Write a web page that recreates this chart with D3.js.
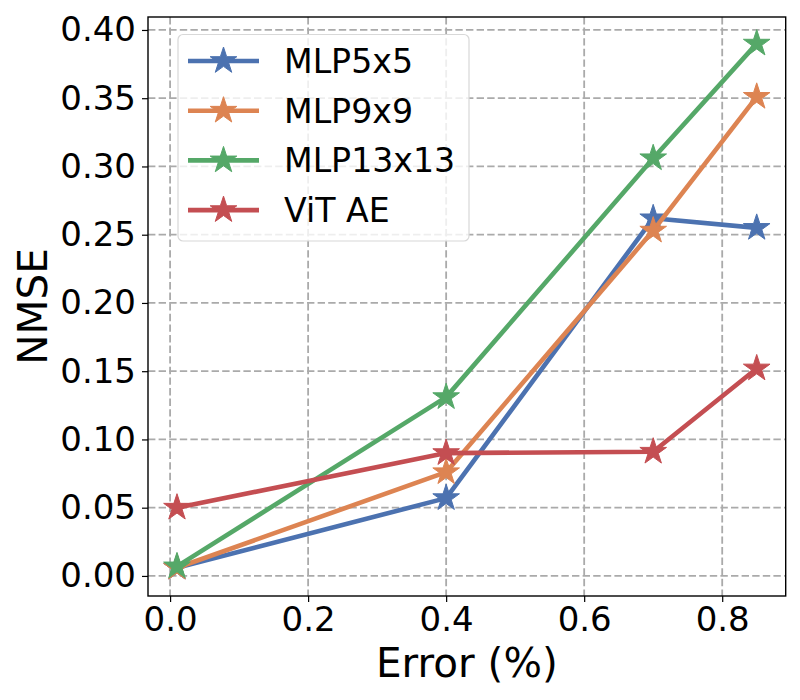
<!DOCTYPE html>
<html>
<head>
<meta charset="utf-8">
<script src="https://cdn.jsdelivr.net/npm/d3@7"></script>
<style>
  body { margin: 0; background: #fff; }
  svg { font-family: "DejaVu Sans", sans-serif; }
</style>
</head>
<body>
<script>
const width = 800;
const height = 700;

// data
var errors = [0.01, 0.4, 0.7, 0.85];
var seriesNames = ["MLP5x5", "MLP9x9", "MLP13x13", "ViT AE"];
var mlp5 = [0.006, 0.057, 0.262, 0.255];
var mlp9 = [0.006, 0.076, 0.253, 0.351];
var mlp13 = [0.007, 0.131, 0.306, 0.390];
var vitAE = [0.050, 0.090, 0.091, 0.152];
var xTicks = [0.0, 0.2, 0.4, 0.6, 0.8];
var yTicks = [0.00, 0.05, 0.10, 0.15, 0.20, 0.25, 0.30, 0.35, 0.40];

var colors = ["#4C72B0", "#DD8452", "#55A868", "#C44E52"];
var allSeries = [mlp5, mlp9, mlp13, vitAE];

const m_left = 148, m_right = 785.7, m_top = 17, m_bottom = 596;

var svg = d3.select("body")
    .append("svg")
    .attr("width", width)
    .attr("height", height);

var xScale = d3.scaleLinear().domain([-0.032, 0.892]).range([m_left, m_right]);
var yScale = d3.scaleLinear().domain([-0.0147, 0.4095]).range([m_bottom, m_top]);

// grid
var grid = svg.append("g").attr("class", "grid");
grid.selectAll("line.gx")
  .data(xTicks).enter()
  .append("line")
    .attr("x1", d => xScale(d)).attr("x2", d => xScale(d))
    .attr("y1", m_top).attr("y2", m_bottom)
    .attr("stroke", "#aaaaaa").attr("stroke-width", 1.8)
    .attr("stroke-dasharray", "7.4,3.2");
grid.selectAll("line.gy")
  .data(yTicks).enter()
  .append("line")
    .attr("y1", d => yScale(d)).attr("y2", d => yScale(d))
    .attr("x1", m_left).attr("x2", m_right)
    .attr("stroke", "#aaaaaa").attr("stroke-width", 1.8)
    .attr("stroke-dasharray", "7.4,3.2");

// axes
var xAxis = svg.append("g")
    .attr("transform", "translate(0," + m_bottom + ")")
    .call(d3.axisBottom(xScale).tickValues(xTicks).tickFormat(d3.format(".1f")).tickSize(6).tickSizeOuter(0).tickPadding(5));
var yAxis = svg.append("g")
    .attr("transform", "translate(" + m_left + ",0)")
    .call(d3.axisLeft(yScale).tickValues(yTicks).tickFormat(d3.format(".2f")).tickSize(6).tickSizeOuter(0).tickPadding(6));
[xAxis, yAxis].forEach(function(a){
  a.select(".domain").remove();
  a.selectAll("text").attr("font-size", 34).attr("fill", "#000").attr("font-family", "DejaVu Sans");
  a.selectAll("line").attr("stroke", "#000").attr("stroke-width", 1.2);
});

svg.append("rect")
  .attr("x", m_left).attr("y", m_top)
  .attr("width", m_right - m_left).attr("height", m_bottom - m_top)
  .attr("fill", "none").attr("stroke", "#000").attr("stroke-width", 1.4);

// star marker like matplotlib's '*'
function starPath(r) {
  var inner = r * 0.381966, pts = [];
  for (var i = 0; i < 10; i++) {
    var rr = i % 2 == 0 ? r : inner;
    var a = Math.PI / 5 * i - Math.PI / 2;
    pts.push([rr * Math.cos(a), rr * Math.sin(a)]);
  }
  return "M" + pts.map(p => p.join(",")).join("L") + "Z";
}

var line = d3.line().x((d, i) => xScale(errors[i])).y(d => yScale(d));

var plot = svg.append("g").attr("class", "plot");
allSeries.forEach(function(vals, k){
  var g = plot.append("g");
  g.append("path")
    .attr("d", line(vals))
    .attr("fill", "none")
    .attr("stroke", colors[k])
    .attr("stroke-width", 4.6)
    .attr("stroke-linejoin", "round");
  g.selectAll("path.star")
    .data(vals).enter()
    .append("path")
      .attr("class", "star")
      .attr("transform", (d, i) => "translate(" + xScale(errors[i]) + "," + yScale(d) + ")")
      .attr("d", starPath(14))
      .attr("fill", colors[k])
      .attr("stroke", colors[k])
      .attr("stroke-width", 1);
});

// legend
var legend = svg.append("g").attr("class", "legend");
legend.append("rect")
  .attr("x", 178).attr("y", 34.5)
  .attr("width", 291).attr("height", 206.5)
  .attr("rx", 5)
  .attr("fill", "rgba(255,255,255,0.8)")
  .attr("stroke", "#d8d8d8").attr("stroke-width", 1.2);
var items = legend.selectAll("g.item")
  .data(seriesNames).enter()
  .append("g")
    .attr("class", "item")
    .attr("transform", (d, i) => "translate(0," + (61 + i * 49.7) + ")");
items.append("line")
  .attr("x1", 188).attr("x2", 259)
  .attr("stroke", (d, i) => colors[i]).attr("stroke-width", 4.6);
items.append("path")
  .attr("transform", "translate(223.5,0)")
  .attr("d", starPath(14))
  .attr("fill", (d, i) => colors[i])
  .attr("stroke", (d, i) => colors[i]);
items.append("text")
  .attr("x", 284)
  .attr("dy", "0.36em")
  .attr("font-size", 33.2)
  .text(d => d);

// axis titles
svg.append("text")
  .attr("x", (m_left + m_right) / 2).attr("y", 677)
  .attr("text-anchor", "middle")
  .attr("font-size", 40.5)
  .text("Error (%)");
svg.append("text")
  .attr("transform", "translate(47," + (m_top + m_bottom) / 2 + ") rotate(-90)")
  .attr("text-anchor", "middle")
  .attr("font-size", 40.5)
  .text("NMSE");
</script>
</body>
</html>
